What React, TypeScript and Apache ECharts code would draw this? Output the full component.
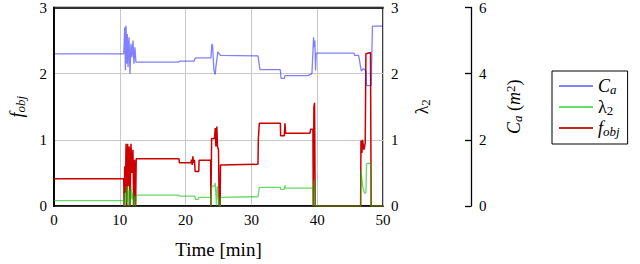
import React, { useEffect, useRef } from "react";
import * as echarts from "echarts";

// C_a (m^2) vs time [min]
const caData: [number, number][] = [
  [0, 4.6], [10.6, 4.6], [10.75, 5.4], [10.85, 4.1], [10.95, 5.45], [11.05, 4.3], [11.15, 5.2],
  [11.25, 4.2], [11.4, 5.1], [11.55, 4.0], [11.7, 4.9], [11.85, 4.5], [12.0, 5.0], [12.15, 4.3],
  [12.3, 4.8], [12.45, 4.35], [12.5, 4.35], [19.0, 4.35], [19.05, 4.38], [21.3, 4.38],
  [21.4, 4.45], [21.6, 4.48], [23.85, 4.48], [24.0, 4.9], [24.1, 4.85], [24.3, 4.1],
  [24.5, 3.98], [24.6, 4.2], [24.9, 4.66], [25.3, 4.55], [31.0, 4.54], [31.1, 4.4],
  [31.3, 4.12], [34.4, 4.12], [34.5, 3.86], [35.0, 3.86], [35.1, 3.94], [38.6, 3.94],
  [39.2, 4.0], [39.3, 4.0], [39.45, 5.1], [39.55, 4.8], [39.65, 5.0], [39.75, 4.1],
  [39.85, 4.62], [45.6, 4.62], [45.7, 4.55], [46.3, 4.55], [46.7, 4.08], [47.0, 4.15],
  [47.4, 4.1], [47.5, 3.64], [48.2, 3.64], [48.4, 5.44], [50, 5.44],
];

// lambda_2 vs time [min]
const lambda2Data: [number, number][] = [
  [0, 0.08], [10.6, 0.08], [10.65, 0], [10.75, 0.2], [10.85, 0], [10.95, 0.3], [11.05, 0.05],
  [11.2, 0.28], [11.3, 0], [11.45, 0.25], [11.55, 0], [11.7, 0.3], [11.85, 0.1], [12.0, 0.2],
  [12.1, 0], [12.25, 0.15], [12.4, 0], [12.5, 0.165], [19.0, 0.165], [19.05, 0.15],
  [21.4, 0.15], [21.5, 0.1], [21.9, 0.1], [22.0, 0.13], [23.8, 0.13], [23.85, 0],
  [23.95, 0.3], [24.4, 0.3], [24.5, 0.35], [24.6, 0.35], [24.7, 0], [24.8, 0.3], [25.1, 0],
  [25.25, 0], [25.3, 0.13], [31.0, 0.14], [31.2, 0.28], [34.4, 0.28], [34.45, 0.25],
  [35.0, 0.25], [35.1, 0.31], [35.2, 0.27], [39.35, 0.27], [39.4, 0], [39.5, 0.38],
  [39.6, 0.39], [39.7, 0], [46.6, 0], [46.65, 0.54], [46.9, 0.3], [47.2, 0.19], [47.4, 0.2],
  [47.5, 0.64], [48.1, 0.65], [48.2, 0], [50, 0],
];

// f_obj vs time [min]
const fobjData: [number, number][] = [
  [0, 0.41], [10.6, 0.41], [10.65, 0], [10.75, 0.6], [10.85, 0.2], [10.95, 0.94], [11.05, 0],
  [11.2, 0.94], [11.3, 0.3], [11.45, 0.9], [11.55, 0], [11.7, 0.94], [11.85, 0.5],
  [12.0, 0.85], [12.1, 0], [12.25, 0.7], [12.4, 0], [12.5, 0.715], [19.0, 0.715],
  [19.05, 0.655], [20.8, 0.655], [20.9, 0.7], [21.0, 0.62], [21.1, 0.75], [21.2, 0.65],
  [21.35, 0.7], [21.45, 0.52], [22.0, 0.52], [22.05, 0.69], [23.8, 0.69], [23.85, 0],
  [23.95, 1.02], [24.4, 1.02], [24.5, 1.18], [24.6, 0.9], [24.75, 1.2], [24.85, 0.9],
  [25.0, 0.85], [25.1, 0], [25.25, 0], [25.3, 0.62], [31.0, 0.63], [31.05, 1.0], [31.2, 1.25],
  [34.4, 1.25], [34.45, 1.06], [35.0, 1.06], [35.1, 1.25], [35.2, 1.1], [38.9, 1.1],
  [39.0, 1.16], [39.35, 1.16], [39.4, 0], [39.5, 1.5], [39.6, 1.56], [39.7, 0], [46.6, 0],
  [46.65, 0.99], [46.8, 0.8], [46.9, 1.0], [47.1, 0.85], [47.3, 0.95], [47.4, 2.3],
  [48.1, 2.32], [48.2, 0], [50, 0],
];

const xTicks = [0, 10, 20, 30, 40, 50];
const leftTicks = [0, 1, 2, 3];
const caTicks = [0, 2, 4, 6];

const FONT = "Liberation Serif";

const rich = {
  it: { fontFamily: FONT, fontStyle: "italic" as const, fontSize: 18, lineHeight: 20, color: "#000" },
  n: { fontFamily: FONT, fontSize: 18, lineHeight: 20, color: "#000" },
  sub: { fontFamily: FONT, fontStyle: "italic" as const, fontSize: 13, lineHeight: 13, verticalAlign: "bottom" as const, color: "#000" },
  sub2: { fontFamily: FONT, fontSize: 13, lineHeight: 13, verticalAlign: "bottom" as const, color: "#000" },
  sup: { fontFamily: FONT, fontSize: 13, lineHeight: 13, verticalAlign: "top" as const, color: "#000" },
  p: { fontFamily: FONT, fontSize: 18, lineHeight: 20, color: "#000" },
};

export default function App() {
  const ref = useRef<HTMLDivElement>(null);
  useEffect(() => {
    if (!ref.current) return;
    const chart = echarts.init(ref.current, undefined, { renderer: "svg" });
    const axisLabel = { fontFamily: FONT, fontSize: 15, color: "#000" };
    chart.setOption({
      animation: false,
      backgroundColor: "#fff",
      textStyle: { fontFamily: FONT },
      grid: {
        left: 47, right: 257, top: 6, bottom: 58,
        show: true, borderColor: "#000", borderWidth: 1.5, backgroundColor: "transparent",
      },
      legend: {
        left: 552, top: 71, orient: "vertical",
        padding: [6, 8, 6, 7], itemGap: 2, itemWidth: 34, itemHeight: 2, icon: "rect",
        borderColor: "#000", borderWidth: 1,
        data: ["C_a", "λ2", "f_obj"],
        formatter: (name: string) =>
          name === "C_a" ? "{it|C}{sub|a}" : name === "λ2" ? "{n|λ}{sub2|2}" : "{it|f}{sub|obj}",
        textStyle: { fontFamily: FONT, fontSize: 17, color: "#000", rich },
      },
      xAxis: [
        {
          type: "value", position: "bottom", min: xTicks[0], max: xTicks[xTicks.length - 1], interval: 10,
          axisLine: { show: true, lineStyle: { color: "#000", width: 1.5 } },
          axisTick: { show: false },
          axisLabel: { ...axisLabel, margin: 6 },
          splitLine: { show: true, lineStyle: { color: "#c8c8c8", width: 1 } },
          name: "Time [min]", nameLocation: "middle", nameGap: 34,
          nameTextStyle: { fontFamily: FONT, fontSize: 19, fontWeight: "normal", color: "#000" },
        },
        {
          type: "value", position: "top", min: xTicks[0], max: xTicks[xTicks.length - 1], interval: 10,
          axisLine: { show: true, onZero: false, lineStyle: { color: "#000", width: 1.5 } },
          axisTick: { show: false }, axisLabel: { show: false }, splitLine: { show: false },
        },
      ],
      yAxis: [
        {
          type: "value", position: "left", min: leftTicks[0], max: leftTicks[leftTicks.length - 1], interval: 1,
          axisLine: { show: true, lineStyle: { color: "#000", width: 1.5 } },
          axisTick: { show: false },
          axisLabel: { ...axisLabel, margin: 7 },
          splitLine: { show: true, lineStyle: { color: "#c8c8c8", width: 1 } },
          name: "{it|f}{sub|obj}", nameLocation: "middle", nameGap: 27, nameRotate: 90,
          nameTextStyle: { fontFamily: FONT, fontSize: 18, color: "#000", rich },
        },
        {
          type: "value", position: "right", min: 0, max: 3, interval: 1,
          axisLine: { show: true, lineStyle: { color: "#000", width: 1.5 } },
          axisTick: { show: false },
          axisLabel: { ...axisLabel, margin: 8 },
          splitLine: { show: false },
          name: "{n|λ}{sub2|2}", nameLocation: "middle", nameGap: 29, nameRotate: 90,
          nameTextStyle: { fontFamily: FONT, fontSize: 18, color: "#000", rich },
        },
        {
          type: "value", position: "right", offset: 88, min: caTicks[0], max: caTicks[caTicks.length - 1], interval: 2,
          axisLine: { show: true, lineStyle: { color: "#000", width: 1.3 } },
          axisTick: { show: true, inside: true, length: 6, lineStyle: { color: "#000", width: 1.3 } },
          axisLabel: { ...axisLabel, margin: 8 },
          splitLine: { show: false },
          name: "{it|C}{sub|a}{p| (}{it|m}{sup|2}{p|)}", nameLocation: "middle", nameGap: 33, nameRotate: 90,
          nameTextStyle: { fontFamily: FONT, fontSize: 18, color: "#000", rich },
        },
      ],
      series: [
        {
          name: "f_obj", type: "line", yAxisIndex: 0, data: fobjData, showSymbol: false, symbol: "none",
          itemStyle: { color: "#cc2020" },
          lineStyle: { color: "#cc0000", width: 1.5 }, z: 2,
        },
        {
          name: "λ2", type: "line", yAxisIndex: 1, data: lambda2Data, showSymbol: false, symbol: "none",
          itemStyle: { color: "#66dd66" },
          lineStyle: { color: "#00c000", width: 1.3, opacity: 0.6 }, z: 3,
        },
        {
          name: "C_a", type: "line", yAxisIndex: 2, data: caData, showSymbol: false, symbol: "none",
          itemStyle: { color: "#8080ff" },
          lineStyle: { color: "#0000ff", width: 1.3, opacity: 0.5 }, z: 4,
        },
      ],
    });
    return () => chart.dispose();
  }, []);
  return (
    <div
      ref={ref}
      style={{ position: "fixed", left: 0, top: 0, width: 640, height: 264, background: "#fff" }}
    />
  );
}
